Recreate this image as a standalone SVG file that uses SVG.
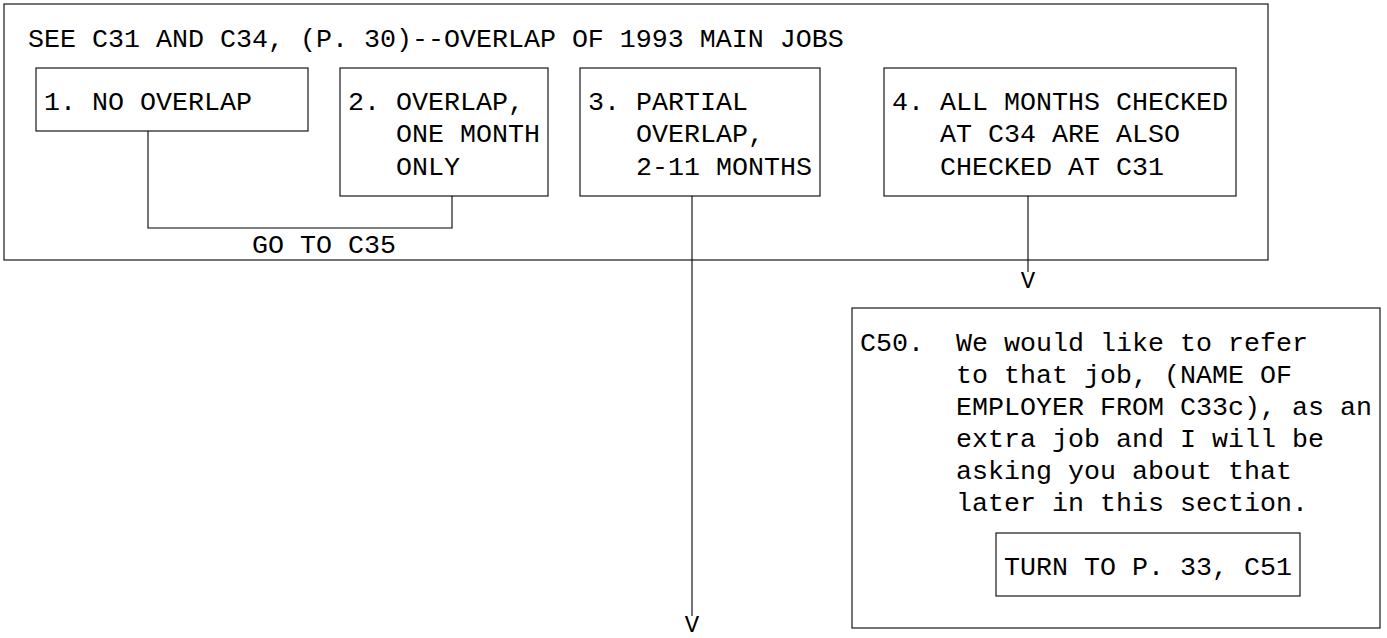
<svg xmlns="http://www.w3.org/2000/svg" width="1387" height="638" viewBox="0 0 1387 638">
<style>
text{font-family:"Liberation Mono","Courier New",monospace;font-size:26.67px;fill:#000}
.b{fill:none;stroke:#000;stroke-width:1.1}
.c{fill:none;stroke:#000;stroke-width:1.1}
.v{font-size:24px}
</style>
<rect width="1387" height="638" fill="#fff"/>
<g id="overlap-check">
<rect class="b" x="4" y="4" width="1264" height="256"/>
<text x="28" y="47" xml:space="preserve">SEE C31 AND C34, (P. 30)--OVERLAP OF 1993 MAIN JOBS</text>
<text x="252" y="253">GO TO C35</text>
</g>
<g id="opt1">
<rect class="b" x="36" y="68" width="272" height="63"/>
<text x="44" y="110" xml:space="preserve">1. NO OVERLAP</text>
</g>
<g id="opt2">
<rect class="b" x="340" y="68" width="208" height="128"/>
<text x="348" y="110" xml:space="preserve">2. OVERLAP,</text>
<text x="396" y="142">ONE MONTH</text>
<text x="396" y="175">ONLY</text>
</g>
<g id="opt3">
<rect class="b" x="580" y="68" width="240" height="128"/>
<text x="588" y="110" xml:space="preserve">3. PARTIAL</text>
<text x="636" y="142">OVERLAP,</text>
<text x="636" y="175">2-11 MONTHS</text>
</g>
<g id="opt4">
<rect class="b" x="884" y="68" width="352" height="128"/>
<text x="892" y="110" xml:space="preserve">4. ALL MONTHS CHECKED</text>
<text x="940" y="142">AT C34 ARE ALSO</text>
<text x="940" y="175">CHECKED AT C31</text>
</g>
<g id="c50">
<rect class="b" x="852" y="308" width="528" height="320"/>
<text x="860" y="351">C50.</text>
<text x="956" y="351">We would like to refer</text>
<text x="956" y="383">to that job, (NAME OF</text>
<text x="956" y="415">EMPLOYER FROM C33c), as an</text>
<text x="956" y="447">extra job and I will be</text>
<text x="956" y="479">asking you about that</text>
<text x="956" y="511">later in this section.</text>
</g>
<g id="turn-c51">
<rect class="b" x="996" y="533" width="304" height="63"/>
<text x="1004" y="575" xml:space="preserve">TURN TO P. 33, C51</text>
</g>
<g id="connectors">
<path class="c" d="M148,131 V228 H452 V196"/>
<path class="c" d="M692,196 V616"/>
<text class="v" x="692" y="632" text-anchor="middle">V</text>
<path class="c" d="M1028,196 V272"/>
<text class="v" x="1028" y="288" text-anchor="middle">V</text>
</g>
</svg>
